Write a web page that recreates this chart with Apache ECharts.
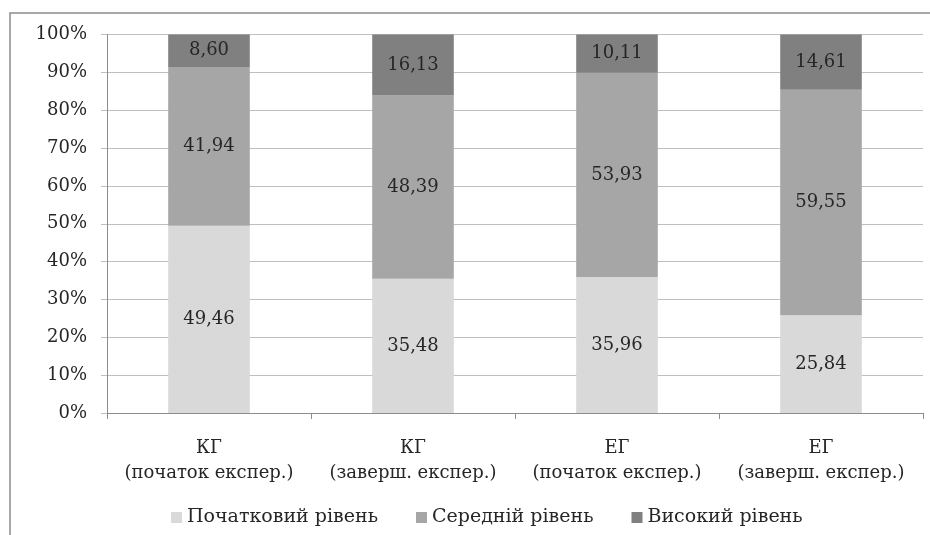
<!DOCTYPE html>
<html><head><meta charset="utf-8">
<script src="https://cdn.jsdelivr.net/npm/echarts@6/dist/echarts.min.js"></script>
<style>html,body{margin:0;padding:0;background:#fff}#c{width:930px;height:535px}</style>
</head><body><div id="c"></div>
<script>
const categories = ['КГ\n(початок експер.)', 'КГ\n(заверш. експер.)', 'ЕГ\n(початок експер.)', 'ЕГ\n(заверш. експер.)'];
const seriesNames = ['Початковий рівень', 'Середній рівень', 'Високий рівень'];
const initialLevel = [49.46, 35.48, 35.96, 25.84];
const mediumLevel = [41.94, 48.39, 53.93, 59.55];
const highLevel = [8.60, 16.13, 10.11, 14.61];
const colors = ['#d9d9d9', '#a6a6a6', '#808080'];
const font = '"DejaVu Serif", serif';
const fs = 18;
const chart = echarts.init(document.getElementById('c'));
const mk = (name, data, color) => ({
  name, type: 'bar', stack: 'total', data, barWidth: '40%',
  itemStyle: { color },
  label: { show: true, position: 'inside', color: '#262626', fontFamily: font, fontSize: fs,
    formatter: p => p.value.toFixed(2).replace('.', ',') }
});
chart.setOption({
  animation: false,
  graphic: [{ type: 'rect', shape: { x: 10, y: 13, width: 960, height: 600 },
    style: { fill: 'none', stroke: '#8c8c8c', lineWidth: 1.5 }, silent: true }],
  grid: { left: 107, right: 7, top: 34.5, bottom: 122 },
  legend: { bottom: 3, left: 166, itemWidth: 11, itemHeight: 11, itemGap: 38,
    icon: 'rect', textStyle: { fontFamily: font, fontSize: 19, color: '#262626' },
    data: seriesNames },
  xAxis: { type: 'category', data: categories,
    axisLine: { lineStyle: { color: '#8c8c8c', width: 1 } },
    axisTick: { show: true, length: 6, interval: 0, lineStyle: { color: '#8c8c8c' } },
    axisLabel: { interval: 0, margin: 23, fontFamily: font, fontSize: fs, color: '#262626', lineHeight: 25 } },
  yAxis: { type: 'value', min: 0, max: 100, interval: 10,
    axisLine: { show: true, lineStyle: { color: '#8c8c8c' } },
    axisTick: { show: true, length: 6, lineStyle: { color: '#bfbfbf' } },
    splitLine: { lineStyle: { color: '#bfbfbf', width: 1 } },
    axisLabel: { formatter: '{value}%', margin: 20, fontFamily: font, fontSize: fs, color: '#262626' } },
  series: [mk(seriesNames[0], initialLevel, colors[0]), mk(seriesNames[1], mediumLevel, colors[1]), mk(seriesNames[2], highLevel, colors[2])]
});
</script></body></html>
